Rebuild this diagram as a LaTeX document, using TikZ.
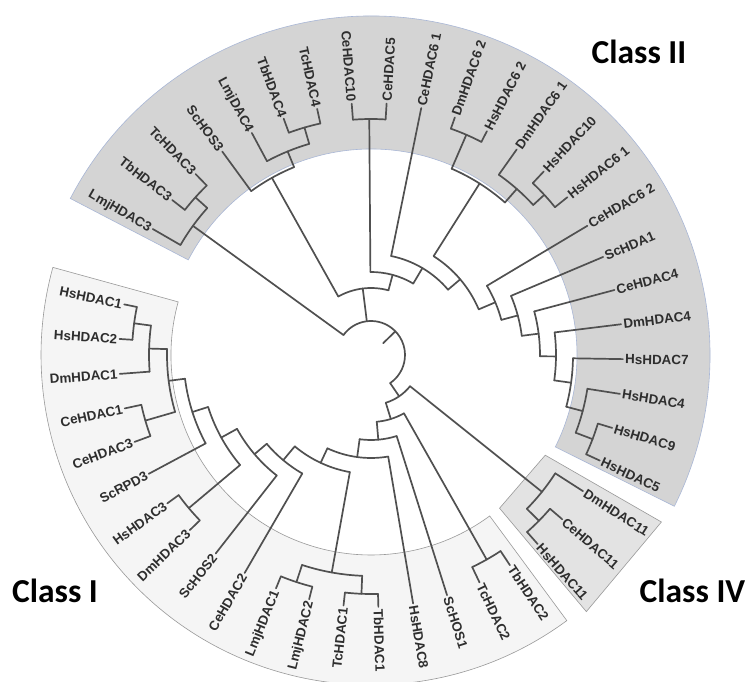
\documentclass[tikz,border=0pt]{standalone}
\usepackage{fontspec}
\newfontfamily\labfont{Liberation Sans}
\newfontfamily\classfont{Carlito}
\definecolor{treec}{HTML}{505050}
\definecolor{ctwofill}{HTML}{D4D4D4}
\definecolor{ctwoline}{HTML}{A9B7D6}
\definecolor{cfourfill}{HTML}{E3E3E3}
\definecolor{conefill}{HTML}{F5F5F5}
\definecolor{boxline}{HTML}{999999}
\definecolor{labc}{HTML}{2E2E2E}
\tikzset{
  br/.style={draw=treec, line width=1.7pt, line cap=round, line join=round},
  lab/.style={font=\labfont\bfseries\fontsize{13.4}{15}\selectfont, text=labc, inner sep=1.5pt, text height=9.6pt, text depth=0pt},
  cls/.style={font=\classfont\bfseries\fontsize{33.5}{40}\selectfont, text=black, inner sep=0pt}
}
\newcommand{\clade}[4]{%
  \pgfmathsetmacro{\cmidang}{(#3+#4)/2}%
  \draw[br] (\cmidang:#1pt) -- (\cmidang:#2pt);
  \draw[br] (#3:#2pt) arc[start angle=#3, end angle=#4, radius=#2pt];%
}
\newcommand{\leafR}[4]{\draw[br] (#2:#1pt) -- (#2:252pt) node[lab, anchor=west, rotate=#2] (#3) {#4};}
\newcommand{\leafL}[4]{\draw[br] (#2:#1pt) -- (#2:252pt) node[lab, anchor=east, rotate=#2+180] (#3) {#4};}
\begin{document}
\begin{tikzpicture}[x=1pt,y=1pt]
\fill[white] (0,0) rectangle (748,681);
\useasboundingbox (0,0) rectangle (748,681);
\begin{scope}[shift={(371pt,326pt)}]
% class boxes
\filldraw[fill=conefill, draw=boxline, line width=0.6pt] (164.6:200pt) arc[start angle=164.6, end angle=306.4, radius=200pt] -- (306.4:330pt) arc[start angle=306.4, end angle=164.6, radius=330pt] -- cycle;
\filldraw[fill=ctwofill, draw=ctwoline, line width=0.6pt] (-26.5:206pt) arc[start angle=-26.5, end angle=152.5, radius=206pt] -- (152.5:339pt) arc[start angle=152.5, end angle=-26.5, radius=339pt] -- cycle;
\filldraw[fill=cfourfill, draw=boxline, line width=0.6pt] (-29.9:201pt) -- (-29.9:335pt) -- (-50:335pt) -- (-50:200pt) -- cycle;
% root
\draw[br] (44.155:17pt) -- (44.155:34pt);
\draw[br] (144.04:34pt) arc[start angle=144.04, end angle=-55.73, radius=34pt];
% class II part
\clade{34}{220}{150}{138.085}
\clade{220}{236}{142.06}{134.11}
\clade{34}{67}{119.22}{74.91}
\clade{67}{203}{126.17}{112.265}
\clade{203}{220}{118.22}{106.31}
\clade{220}{237}{110.28}{102.34}
\clade{67}{83}{90.42}{59.40}
\clade{83}{236}{94.39}{86.45}
\clade{83}{101}{78.50}{40.305}
\clade{101}{117}{57.65}{22.96}
\clade{117}{203}{66.59}{48.71}
\clade{203}{240}{70.56}{62.62}
\clade{203}{221}{54.67}{42.755}
\clade{221}{236}{46.73}{38.78}
\clade{117}{135}{30.84}{15.08}
\clade{135}{152}{22.90}{7.255}
\clade{152}{169}{14.95}{-0.44}
\clade{169}{185}{7.01}{-7.89}
\clade{185}{202}{-0.94}{-14.84}
\clade{202}{219}{-8.88}{-20.795}
\clade{219}{237}{-16.82}{-24.77}
% class IV and class I part
\clade{34}{50}{-38.67}{-72.79}
\clade{50}{219}{-32.71}{-44.63}
\clade{219}{236}{-40.66}{-48.60}
\clade{50}{67}{-60.515}{-85.07}
\clade{67}{235}{-56.54}{-64.49}
\clade{67}{85}{-72.43}{-97.71}
\clade{85}{103}{-80.38}{-115.04}
\clade{103}{119}{-100.235}{-129.84}
\clade{119}{221}{-92.29}{-108.18}
\clade{221}{239}{-88.32}{-96.26}
\clade{221}{239}{-104.21}{-112.15}
\clade{119}{137}{-120.10}{-139.585}
\clade{137}{153}{-128.04}{-151.13}
\clade{153}{171}{-139.955}{-162.30}
\clade{171}{238}{-135.98}{-143.93}
\clade{171}{187.5}{-151.87}{-172.725}
\clade{187.5}{204}{-163.79}{-181.66}
\clade{204}{235}{-159.82}{-167.76}
\clade{204}{222}{-175.70}{-187.62}
\clade{222}{239}{-183.65}{-191.59}
% leaves
\leafL{220}{150}{n01}{LmjHDAC3}
\leafL{236}{142.06}{n02}{TbHDAC3}
\leafL{236}{134.11}{n03}{TcHDAC3}
\leafL{203}{126.17}{n04}{ScHOS3}
\leafL{220}{118.22}{n05}{LmjDAC4}
\leafL{237}{110.28}{n06}{TbHDAC4}
\leafL{237}{102.34}{n07}{TcHDAC4}
\leafL{236}{94.39}{n08}{CeHDAC10}
\leafR{236}{86.45}{n09}{CeHDAC5}
\leafR{101}{78.50}{n10}{CeHDAC6 1}
\leafR{240}{70.56}{n11}{DmHDAC6 2}
\leafR{240}{62.62}{n12}{HsHDAC6 2}
\leafR{221}{54.67}{n13}{DmHDAC6 1}
\leafR{236}{46.73}{n14}{HsHDAC10}
\leafR{236}{38.78}{n15}{HsHDAC6 1}
\leafR{135}{30.84}{n16}{CeHDAC6 2}
\leafR{152}{22.90}{n17}{ScHDA1}
\leafR{169}{14.95}{n18}{CeHDAC4}
\leafR{185}{7.01}{n19}{DmHDAC4}
\leafR{202}{-0.94}{n20}{HsHDAC7}
\leafR{219}{-8.88}{n21}{HsHDAC4}
\leafR{237}{-16.82}{n22}{HsHDAC9}
\leafR{237}{-24.77}{n23}{HsHDAC5}
\leafR{219}{-32.71}{n24}{DmHDAC11}
\leafR{236}{-40.66}{n25}{CeHDAC11}
\leafR{236}{-48.60}{n26}{HsHDAC11}
\leafR{235}{-56.54}{n27}{TbHDAC2}
\leafR{235}{-64.49}{n28}{TcHDAC2}
\leafR{85}{-72.43}{n29}{ScHOS1}
\leafR{103}{-80.38}{n30}{HsHDAC8}
\leafR{239}{-88.32}{n31}{TbHDAC1}
\leafL{239}{-96.26}{n32}{TcHDAC1}
\leafL{239}{-104.21}{n33}{LmjHDAC2}
\leafL{239}{-112.15}{n34}{LmjHDAC1}
\leafL{137}{-120.10}{n35}{CeHDAC2}
\leafL{153}{-128.04}{n36}{ScHOS2}
\leafL{238}{-135.98}{n37}{DmHDAC3}
\leafL{238}{-143.93}{n38}{HsHDAC3}
\leafL{187.5}{-151.87}{n39}{ScRPD3}
\leafL{235}{-159.82}{n40}{CeHDAC3}
\leafL{235}{-167.76}{n41}{CeHDAC1}
\leafL{222}{-175.70}{n42}{DmHDAC1}
\leafL{239}{-183.65}{n43}{HsHDAC2}
\leafL{239}{-191.59}{n44}{HsHDAC1}
\end{scope}
% class titles
\node[cls, anchor=base] (ctwo) at (639,617) {Class II};
\node[cls, anchor=base] (cone) at (55,78) {Class I};
\node[cls, anchor=base] (cfour) at (692.5,78) {Class IV};
\end{tikzpicture}
\end{document}
